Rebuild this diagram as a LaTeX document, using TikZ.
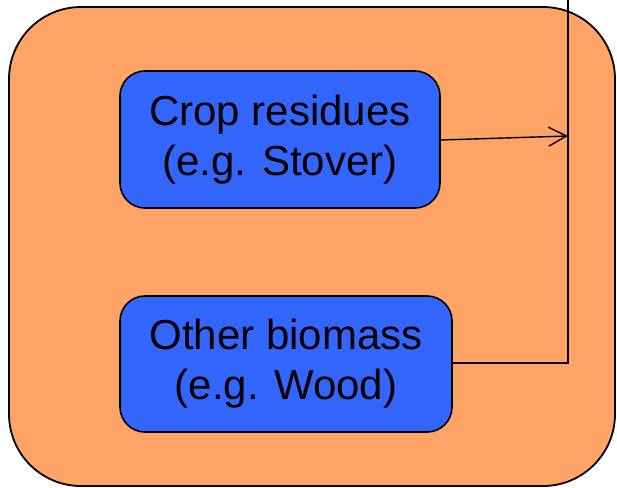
\documentclass[tikz,border=0pt]{standalone}
\usepackage{fontspec}
\setmainfont{Liberation Sans}
\usetikzlibrary{arrows.meta}
\definecolor{orangebg}{HTML}{FFA366}
\definecolor{bluebox}{HTML}{3366FF}
\tikzset{
  sourcebox/.style={draw=black, line width=1.6pt, fill=bluebox, rounded corners=25pt,
    align=center, inner sep=0pt, font=\fontsize{42}{50}\selectfont},
  link/.style={draw=black, line width=1.4pt},
}
\begin{document}
\begin{tikzpicture}[x=1pt,y=-1pt]
\useasboundingbox (0,0) rectangle (617,487);
\draw[line width=1.8pt, fill=orangebg, rounded corners=72pt] (9,7) rectangle (615,486);
\node[sourcebox, minimum width=320pt, minimum height=137pt] (crop) at (280,139.5) {Crop residues\\(e.g. Stover)};
\node[sourcebox, minimum width=332pt, minimum height=136pt] (other) at (286,364) {Other biomass\\(e.g. Wood)};
\coordinate (top) at (568,-5);
\coordinate (hit) at (568,136);
\draw[link] (other.east |- 0,363) -| (top);
\draw[link, -{Straight Barb[length=18pt,width=19pt,line width=1.4pt]}] (crop.east |- 0,140) -- (hit);
\end{tikzpicture}
\end{document}
